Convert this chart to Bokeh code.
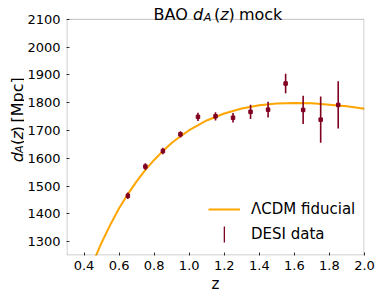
from bokeh.plotting import figure
from bokeh.layouts import row
from bokeh.models import (Range1d, FixedTicker, Legend, LegendItem, ColumnDataSource,
                          Label, BoxAnnotation)
from bokeh.core.properties import value
from bokeh.embed import file_html
from bokeh.resources import INLINE
import math

# ---- data ----
model_z = [0.40, 0.45, 0.50, 0.55, 0.60, 0.65, 0.70, 0.75, 0.80, 0.85, 0.90, 0.95,
           1.00, 1.10, 1.20, 1.30, 1.40, 1.50, 1.60, 1.70, 1.80, 1.90, 2.00]
model_dA = [1141, 1223, 1296, 1361, 1420, 1471, 1517, 1558, 1594, 1626, 1655, 1679,
            1701, 1736, 1761, 1779, 1791, 1797, 1799, 1798, 1793, 1787, 1778]

data_z = [0.65, 0.75, 0.85, 0.95, 1.05, 1.15, 1.25, 1.35, 1.45, 1.55, 1.65, 1.75, 1.85]
data_dA = [1465, 1570, 1626, 1686, 1749, 1751, 1746, 1767, 1775, 1869, 1774, 1739, 1792]
data_err = [12, 12, 12, 11, 15, 15, 17, 26, 28, 35, 51, 83, 85]

x_ticks = [0.4, 0.6, 0.8, 1.0, 1.2, 1.4, 1.6, 1.8, 2.0]
x_tick_labels = ["0.4", "0.6", "0.8", "1.0", "1.2", "1.4", "1.6", "1.8", "2.0"]
y_ticks = [1300, 1400, 1500, 1600, 1700, 1800, 1900, 2000, 2100]
y_tick_labels = ["1300", "1400", "1500", "1600", "1700", "1800", "1900", "2000", "2100"]

X_MIN, X_MAX = 0.3, 2.0
Y_MIN, Y_MAX = 1250, 2100

FONT = "DejaVu Sans"
LINE_COLOR = "#FFA500"
DATA_COLOR = "#800020"
EDGE_COLOR = "#333333"

# ---- page layout (pixels) ----
W, H = 379, 295
YLAB_W = 24
BOX_L, BOX_T, BOX_R, BOX_B = 58, 19, 364, 257   # plot box on the page

# main figure: its frame reaches the top of the page so that the title fits inside it
px_per_y = (BOX_B - BOX_T) / (Y_MAX - Y_MIN)
px_per_x = (BOX_R - BOX_L) / (X_MAX - X_MIN)
y_top = Y_MAX + BOX_T / px_per_y

p = figure(width=W - YLAB_W, height=H, x_range=Range1d(X_MIN, X_MAX),
           y_range=Range1d(Y_MIN, y_top), output_backend="svg", toolbar_location=None,
           title=None, min_border_left=BOX_L - YLAB_W, min_border_right=W - BOX_R,
           min_border_top=0, min_border_bottom=H - BOX_B)

p.xgrid.grid_line_color = None
p.ygrid.grid_line_color = None
p.outline_line_color = None
p.background_fill_color = "white"
p.border_fill_color = "white"

# visible plot box (edges nudged half a pixel inwards so they are not clipped)
half_x = 0.5 / px_per_x
half_y = 0.5 / px_per_y
p.add_layout(BoxAnnotation(left=X_MIN + half_x, right=X_MAX - half_x,
                           bottom=Y_MIN + half_y, top=Y_MAX,
                           fill_alpha=0, fill_color=None, line_color=EDGE_COLOR,
                           line_width=1, level="overlay"))

p.xaxis.ticker = FixedTicker(ticks=x_ticks)
p.xaxis.major_label_overrides = {t: l for t, l in zip(x_ticks, x_tick_labels)}
p.yaxis.ticker = FixedTicker(ticks=y_ticks)
p.yaxis.major_label_overrides = {t: l for t, l in zip(y_ticks, y_tick_labels)}

for ax in (p.xaxis[0], p.yaxis[0]):
    ax.axis_line_color = None
    ax.major_tick_in = 3
    ax.major_tick_out = 0
    ax.minor_tick_in = 0
    ax.minor_tick_out = 0
    ax.major_tick_line_color = EDGE_COLOR
    ax.major_label_text_font = FONT
    ax.major_label_text_font_size = "13px"
    ax.major_label_text_color = "black"
p.xaxis.major_label_standoff = 5
p.yaxis.major_label_standoff = 6

p.xaxis.axis_label = "z"
p.xaxis.axis_label_text_font = FONT
p.xaxis.axis_label_text_font_size = "15px"
p.xaxis.axis_label_text_font_style = "normal"
p.xaxis.axis_label_text_color = "black"
p.xaxis.axis_label_standoff = 2

# model curve
r_line = p.line(model_z, model_dA, line_color=LINE_COLOR, line_width=2)

# data with error bars
src = ColumnDataSource(dict(z=data_z, dA=data_dA, h=[2 * e for e in data_err]))
r_err = p.rect(x="z", y="dA", width=1.6, width_units="screen", height="h",
               fill_color=DATA_COLOR, line_color=None, source=src)
p.scatter(x="z", y="dA", marker="square", size=3.5, fill_color=DATA_COLOR,
          line_color=DATA_COLOR, source=src)

# legends (screen offsets from the frame's bottom-left corner)
leg1 = Legend(items=[LegendItem(label="ΛCDM fiducial", renderers=[r_line])],
              location=(142, 36), glyph_width=32, glyph_height=20, label_height=20,
              label_standoff=11, padding=0, margin=0, border_line_color=None,
              background_fill_alpha=0, label_text_font=FONT, label_text_font_size="15px",
              label_text_color="black")
leg2 = Legend(items=[LegendItem(label="DESI data", renderers=[r_err])],
              location=(157, 11.5), glyph_width=2, glyph_height=20, label_height=20,
              label_standoff=26, padding=0, margin=0, border_line_color=None,
              background_fill_alpha=0, label_text_font=FONT, label_text_font_size="15px",
              label_text_color="black")
p.add_layout(leg1)
p.add_layout(leg2)


def title_piece(x_page, y_page, txt, size, italic=False):
    p.add_layout(Label(x=x_page - BOX_L, y=BOX_B - y_page, x_units="screen", y_units="screen",
                       text=txt, text_font=FONT, text_font_size=size,
                       text_font_style="italic" if italic else "normal",
                       text_align="left", text_baseline="alphabetic", text_color="black"))


# title: BAO d_A(z) mock
tb = 16.0
title_piece(145.0, tb, "BAO", "16px")
title_piece(184.6, tb, "d", "16px", italic=True)
title_piece(195.2, tb + 2.5, "A", "11.2px", italic=True)
title_piece(205.5, tb, "(", "16px")
title_piece(211.7, tb, "z", "16px", italic=True)
title_piece(220.1, tb, ")", "16px")
title_piece(230.4, tb, "mock", "16px")

# ---- y label panel: d_A(z) [Mpc] (coordinates = page pixels) ----
ylab = figure(width=YLAB_W, height=H, x_range=Range1d(0, YLAB_W), y_range=Range1d(H, 0),
              output_backend="svg", toolbar_location=None, title=None,
              x_axis_type=None, y_axis_type=None,
              min_border_left=0, min_border_right=0, min_border_top=0, min_border_bottom=0)
ylab.xgrid.grid_line_color = None
ylab.ygrid.grid_line_color = None
ylab.outline_line_color = None
ylab.background_fill_color = "white"
ylab.border_fill_color = "white"

bx = 16.7
a = math.pi / 2
ylab_src = ColumnDataSource(dict(
    x=[bx, bx + 2.5, bx, bx, bx, bx],
    y=[187.0, 176.4, 167.1, 160.9, 152.5, 141.2],
    t=["d", "A", "(", "z", ")", "[Mpc]"],
    size=["16px", "11.2px", "16px", "16px", "16px", "16px"],
    style=["italic", "italic", "normal", "italic", "normal", "normal"],
))
ylab.text(x="x", y="y", text="t", text_font_size="size", text_font_style="style",
          angle=a, text_font=value(FONT), text_align="left", text_baseline="alphabetic",
          text_color="black", source=ylab_src)

layout = row(ylab, p, spacing=0)

open("out.html", "w").write(file_html(layout, INLINE))
